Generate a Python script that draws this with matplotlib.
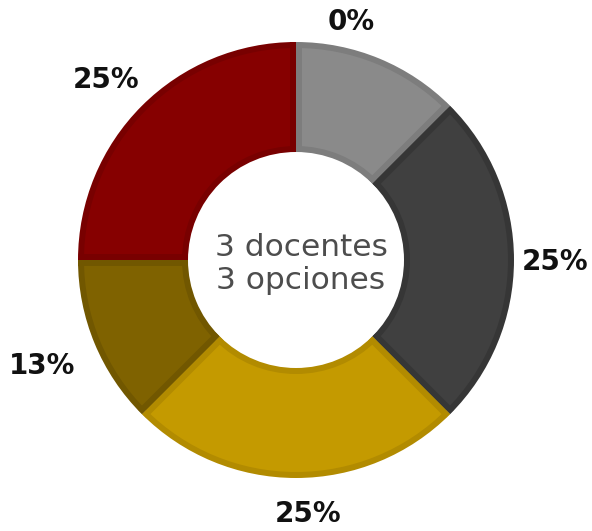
import matplotlib
matplotlib.use("Agg")
import numpy as np
import matplotlib.pyplot as plt

# Data (clockwise from 12 o'clock)
categories = ["Gris claro", "Gris oscuro", "Dorado", "Oliva", "Rojo"]
values = [12.5, 25, 25, 12.5, 25]
labels = ["0%", "25%", "25%", "13%", "25%"]
center_text = "3 docentes\n3 opciones"

fill_colors = ["#8a8a8a", "#404040", "#c49a00", "#7f6200", "#860000"]
edge_colors = ["#7d7d7d", "#363636", "#b28b00", "#715700", "#780000"]

W, H = 592, 531
fig = plt.figure(figsize=(W / 100, H / 100), dpi=100)
ax = fig.add_axes([0, 0, 1, 1])
ax.axis("off")

cx, cy = 296, H - 260
R = 218
r_in = 108
b = 6  # inset border width (px)

# layer 1: border colour, full geometry
wedges, _ = ax.pie(values, startangle=90, counterclock=False, radius=R,
                   center=(cx, cy), colors=edge_colors,
                   wedgeprops=dict(width=R - r_in, linewidth=0))
# layer 2: fill colour, radially inset
ax.pie(values, startangle=90, counterclock=False, radius=R - b,
       center=(cx, cy), colors=fill_colors,
       wedgeprops=dict(width=R - r_in - 2 * b, linewidth=0))
# layer 3: radial border strips inside each wedge
rr = np.array([r_in, R - 0.5])
for w, ec in zip(wedges, edge_colors):
    for th, sgn in ((w.theta1, 1), (w.theta2, -1)):
        t = np.deg2rad(th)
        u = np.array([np.cos(t), np.sin(t)])
        n = np.array([-np.sin(t), np.cos(t)])
        xs = cx + rr * u[0] + sgn * b / 2 * n[0]
        ys = cy + rr * u[1] + sgn * b / 2 * n[1]
        ax.plot(xs, ys, color=ec, lw=b * 0.72, solid_capstyle="butt")

ax.set_xlim(0, W)
ax.set_ylim(0, H)
ax.set_aspect("equal")

# label positions (pixel coords, top-left origin)
label_pos = [(351, 22), (555, 262), (308, 514), (42, 366), (106, 80)]
for (lx, ly), t in zip(label_pos, labels):
    ax.text(lx, H - ly, t, ha="center", va="center", fontsize=20,
            fontweight="bold", color="#111111", family="DejaVu Sans")

ax.text(cx + 5, cy - 4, center_text, ha="center", va="center", fontsize=22.5,
        color="#4d4d4d", family="DejaVu Sans", linespacing=1.2)

fig.savefig("out.png", dpi=100, facecolor="white")
